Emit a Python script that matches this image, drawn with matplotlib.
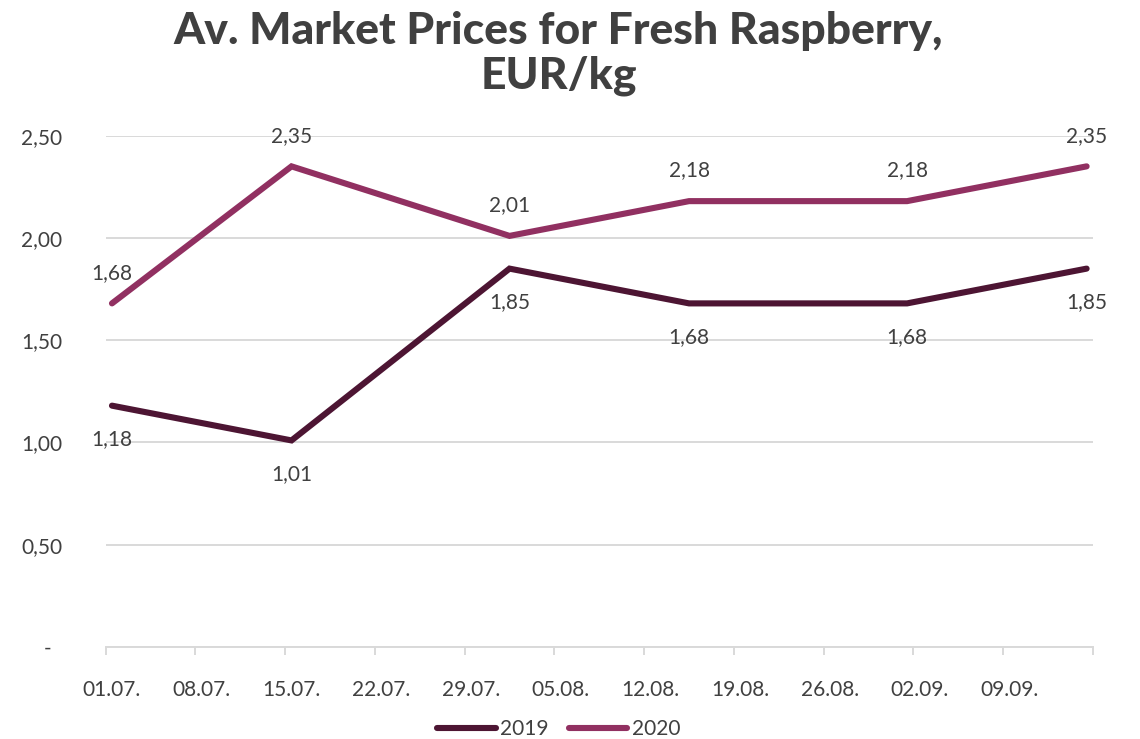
import numpy as np
import matplotlib
matplotlib.use("Agg")
import matplotlib.pyplot as plt
import matplotlib.dates as mdates
from matplotlib.ticker import FixedLocator, FixedFormatter, FuncFormatter
import pandas as pd

dates = ["2020-07-01", "2020-07-15", "2020-08-01", "2020-08-15", "2020-09-01", "2020-09-15"]
prices_2019 = [1.18, 1.01, 1.85, 1.68, 1.68, 1.85]
prices_2020 = [1.68, 2.35, 2.01, 2.18, 2.18, 2.35]
series_names = ["2019", "2020"]
colors = ["#4d1533", "#913061"]
title = "Av. Market Prices for Fresh Raspberry,\nEUR/kg"

plt.rcParams['font.family'] = ['Lato', 'DejaVu Sans']
text_col = "#404040"
grid_col = "#d9d9d9"

fig = plt.figure(figsize=(11.4, 7.39), dpi=100)
ax = fig.add_axes([0.0926, 0.1245, 0.8662, 0.6919])

start = mdates.date2num(pd.Timestamp("2020-07-01"))
# Excel date axis: points sit in the middle of their day
x = mdates.date2num(pd.to_datetime(dates)) + 0.5

lines = []
for vals, name, c, pos in zip([prices_2019, prices_2020], series_names, colors, ["below", "above"]):
    ln, = ax.plot(x, vals, color=c, lw=4.4, solid_capstyle='round', solid_joinstyle='miter', label=name, zorder=3)
    lines.append(ln)
    dy = -24 if pos == "below" else 22
    for xi, v in zip(x, vals):
        ax.annotate(f"{v:.2f}".replace(".", ","), (xi, v), xytext=(0, dy), textcoords='offset points',
                    ha='center', va='center', fontsize=15, color=text_col)

ax.set_ylim(0, 2.5)
ax.set_xlim(start, start + 77)
ax.set_yticks(np.arange(0, 2.51, 0.5))
ax.yaxis.set_major_formatter(FuncFormatter(lambda v, p: "-  " if v == 0 else f"{v:.2f}".replace(".", ",")))
ax.yaxis.grid(True, color=grid_col, lw=1.4)
ax.set_axisbelow(True)

major = start + np.arange(0, 78, 7)
ax.xaxis.set_major_locator(FixedLocator(major))
ax.xaxis.set_major_formatter(FixedFormatter([""] * len(major)))
ax.xaxis.set_minor_locator(FixedLocator(major[:-1] + 0.5))
ax.xaxis.set_minor_formatter(FixedFormatter([mdates.num2date(m).strftime("%d.%m.") for m in major[:-1]]))
ax.tick_params(axis='x', which='major', length=6, width=1.4, color=grid_col)
ax.tick_params(axis='x', which='minor', length=0, pad=24, labelsize=15, labelcolor=text_col)
ax.tick_params(axis='y', length=0, pad=31, labelsize=15, labelcolor=text_col)

for s in ['top', 'right', 'left']:
    ax.spines[s].set_visible(False)
ax.spines['bottom'].set_color(grid_col)
ax.spines['bottom'].set_linewidth(1.4)

fig.text(0.49, 0.985, title, ha='center', va='top', fontsize=32, fontweight='black',
         color=text_col, linespacing=1.13)

fig.legend(handles=lines, loc='lower center', bbox_to_anchor=(0.49, -0.026), ncol=2, frameon=False,
           fontsize=15, labelcolor=text_col, handlelength=2.8, handletextpad=0.2, columnspacing=1.0)

fig.savefig("out.png", dpi=100)
